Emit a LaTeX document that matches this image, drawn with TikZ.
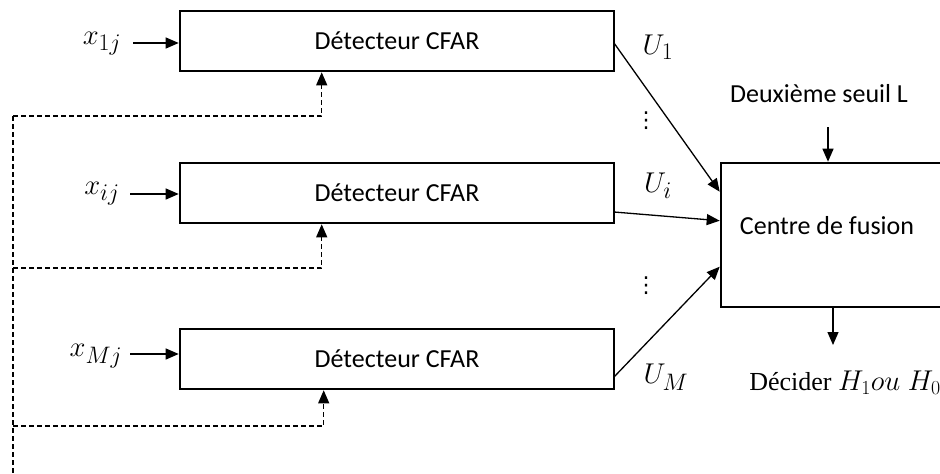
\documentclass[tikz,border=0pt]{standalone}
\usepackage{fontspec}
\usepackage{graphicx}
\setmainfont{Carlito}
\newfontfamily\seriffont{Liberation Serif}
\newfontfamily\symfont{DejaVu Sans}
\usetikzlibrary{arrows.meta,calc}
\newcommand{\biggermath}[1]{\scalebox{1.15}{#1}}
\begin{document}
\begin{tikzpicture}[x=1pt,y=-1pt,
  big/.style={font=\fontsize{26}{30}\selectfont},
  mth/.style={font=\fontsize{28}{32}\selectfont,inner sep=0pt},
  det/.style={big,draw,line width=2.6pt,minimum width=434pt,minimum height=60pt,inner sep=0pt},
  tip/.style={-{Triangle[length=13pt,width=11pt]}},
  thin/.style={tip,line width=1.3pt},
  fb/.style={tip,line width=1.2pt,dash pattern=on 5pt off 3pt},
  lbl/.style={big,inner sep=0pt},
  vdot/.style={font=\symfont\fontsize{22}{26}\selectfont,inner sep=0pt}
]
\useasboundingbox (0,0) rectangle (940,474);

% detector blocks
\node[det] (d1) at (397,41)  {Détecteur CFAR};
\node[det] (d2) at (397,193) {Détecteur CFAR};
\node[det] (d3) at (397,359) {Détecteur CFAR};

% fusion centre (right side runs past the edge)
\node[draw,line width=2.6pt,minimum width=240pt,minimum height=144pt,inner sep=0pt] (fc) at (841,235) {};
\node[lbl] (fctxt) at (827,226) {Centre de fusion};
\node[lbl] (seuil) at (819,94) {Deuxième seuil L};
\node[inner sep=0pt,font=\seriffont\fontsize{26}{30}\selectfont] (dec) at (845,383)
  {Décider \biggermath{$H_1 ou\ H_0$}};

% inputs
\node[mth] (x1) at (102,44) {\biggermath{$x_{1j}$}};
\node[mth] (xi) at (102,194) {\biggermath{$x_{ij}$}};
\node[mth] (xm) at (96,356) {\biggermath{$x_{Mj}$}};
\coordinate (i1) at (133,43);
\coordinate (ii) at (130,194);
\coordinate (im) at (130,354);
\draw[thin] (i1) -- (i1 -| d1.west);
\draw[thin] (ii) -- (ii -| d2.west);
\draw[thin] (im) -- (im -| d3.west);

% local decisions to the fusion centre
\node[mth] (u1) at (658,47) {\biggermath{$U_1$}};
\node[mth] (ui) at (658,186) {\biggermath{$U_i$}};
\node[mth] (um) at (666,377) {\biggermath{$U_M$}};
\node[vdot] (dots1) at (646,121) {⋮};
\node[vdot] (dots2) at (646,286) {⋮};
\coordinate (o1) at (614,43);
\coordinate (oi) at (614,212);
\coordinate (om) at (614,377);
\draw[thin] (o1) -- ($(fc.north west)+(0,30)$);
\draw[thin] (oi) -- ($(fc.north west)+(0,59)$);
\draw[thin] (om) -- ($(fc.north west)+(0,105)$);

% threshold and final decision
\coordinate (s1) at (828,127);
\draw[thin] (s1) -- (s1 |- fc.north);
\coordinate (o2) at (833,345);
\draw[thin] (o2 |- fc.south) -- (o2);

% dashed feedback bus
\coordinate (f1) at (13,116);
\coordinate (f2) at (13,268);
\coordinate (f3) at (13,426);
\coordinate (fend) at (13,476);
\draw[line width=1.2pt,dash pattern=on 5pt off 3pt] (f1) -- (fend);
\draw[fb] (f1) -| ($(d1.south west)+(143,0)$);
\draw[fb] (f2) -| ($(d2.south west)+(143,0)$);
\draw[fb] (f3) -| ($(d3.south west)+(145,0)$);
\end{tikzpicture}
\end{document}
